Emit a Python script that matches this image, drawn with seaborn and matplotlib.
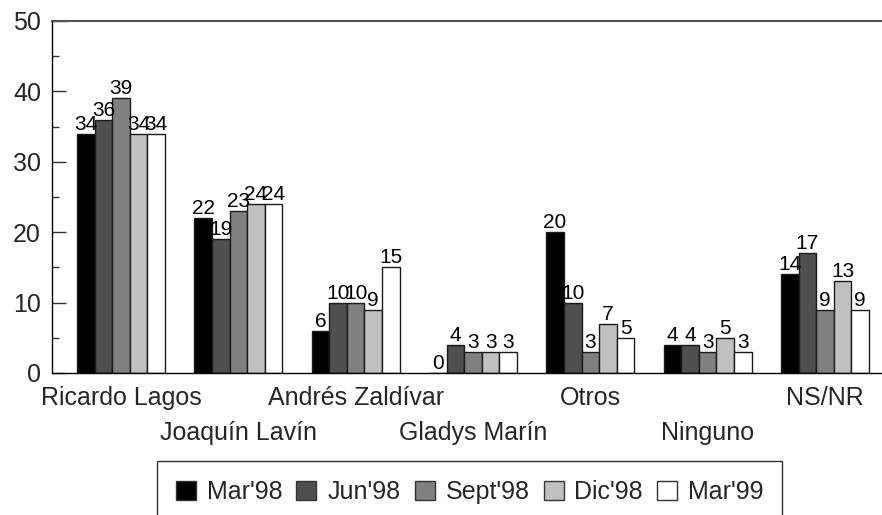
import matplotlib
matplotlib.use("Agg")
import matplotlib.pyplot as plt
import seaborn as sns
import pandas as pd
from matplotlib.ticker import MultipleLocator

categories = ["Ricardo Lagos", "Joaquín Lavín", "Andrés Zaldívar", "Gladys Marín",
              "Otros", "Ninguno", "NS/NR"]
series = ["Mar'98", "Jun'98", "Sept'98", "Dic'98", "Mar'99"]
mar98 = [34, 22, 6, 0, 20, 4, 14]
jun98 = [36, 19, 10, 4, 10, 4, 17]
sep98 = [39, 23, 10, 3, 3, 3, 9]
dic98 = [34, 24, 9, 3, 7, 5, 13]
mar99 = [34, 24, 15, 3, 5, 3, 9]
colors = ["#000000", "#4f4f4f", "#808080", "#c0c0c0", "#ffffff"]

values = [mar98, jun98, sep98, dic98, mar99]
rows = []
for s, vals in zip(series, values):
    for c, v in zip(categories, vals):
        rows.append({"cat": c, "serie": s, "val": v})
df = pd.DataFrame(rows)

sns.set_style("white")
plt.rcParams['font.family'] = ['Liberation Sans', 'DejaVu Sans']

fig = plt.figure(figsize=(8.82, 5.15), dpi=100)
W, H = 882, 515
ax = fig.add_axes([52 / W, 1 - 373 / H, (882 - 52) / W, (373 - 21) / H])

sns.barplot(data=df, x="cat", y="val", hue="serie", order=categories,
            hue_order=series, palette=colors, width=0.75, gap=0,
            edgecolor="#1a1a1a", linewidth=1.0, saturation=1, ax=ax,
            legend=False, errorbar=None)

for cont in ax.containers:
    ax.bar_label(cont, fmt="%g", padding=0, fontsize=15, color="black")

ax.set_ylim(0, 50)
ax.set_xlim(-0.588, 6.486)
ax.yaxis.set_major_locator(MultipleLocator(10))
ax.yaxis.set_minor_locator(MultipleLocator(5))
ax.tick_params(axis="y", which="major", direction="in", length=10, width=1,
               labelsize=18, pad=8, color="#333333", left=True)
ax.tick_params(axis="y", which="minor", direction="in", length=5, width=1,
               color="#333333", left=True)
labels = [c if i % 2 == 0 else "\n" + c for i, c in enumerate(categories)]
ax.set_xticks(range(len(categories)))
ax.set_xticklabels(labels, fontsize=18, linespacing=1.55)
ax.tick_params(axis="x", direction="in", length=9, width=1, color="#333333",
               pad=9.5, bottom=True)
ax.set_xlabel("")
ax.set_ylabel("")

for side in ["left", "bottom"]:
    ax.spines[side].set_visible(True)
    ax.spines[side].set_color("black")
    ax.spines[side].set_linewidth(1)
ax.spines["top"].set_visible(True)
ax.spines["top"].set_color("#555555")
ax.spines["top"].set_linewidth(1.5)
ax.spines["right"].set_visible(False)

handles = [plt.Rectangle((0, 0), 1, 1, facecolor=c, edgecolor="#333333", linewidth=1)
           for c in colors]
leg = fig.legend(handles, series, loc="upper left",
                 bbox_to_anchor=(157 / W, 1 - 461 / H), ncol=5, fontsize=18,
                 frameon=True, fancybox=False, edgecolor="black",
                 handlelength=0.8, handleheight=0.8, handletextpad=0.44,
                 columnspacing=0.56, borderpad=0.75, borderaxespad=0)
leg.get_frame().set_linewidth(1)

fig.savefig("out.png", dpi=100, facecolor="white")
